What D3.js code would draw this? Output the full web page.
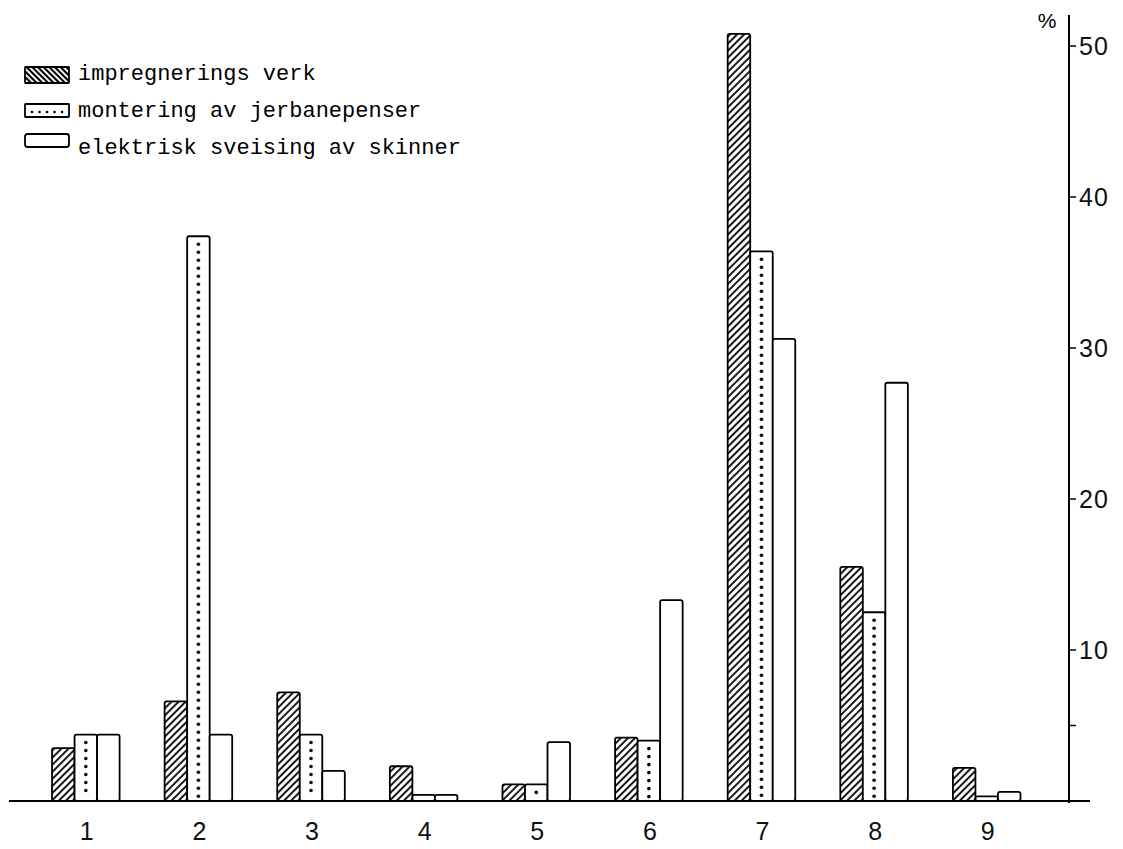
<!DOCTYPE html>
<html lang="no">
  <head>
    <meta charset="UTF-8" />
    <title>Fordeling</title>
    <script src="https://cdn.jsdelivr.net/npm/d3@7"></script>
    <style>
      body { margin: 0; background: #fff; }
    </style>
  </head>
  <body>
    <div id="wrapper"></div>
    <script>
      // data (percent)
      const categories = ['1', '2', '3', '4', '5', '6', '7', '8', '9']
      const seriesNames = ['impregnerings verk', 'montering av jerbanepenser', 'elektrisk sveising av skinner']
      const impregnering = [3.5, 6.6, 7.2, 2.3, 1.1, 4.2, 50.8, 15.5, 2.2]
      const montering = [4.4, 37.4, 4.4, 0.4, 1.1, 4.0, 36.4, 12.5, 0.3]
      const sveising = [4.4, 4.4, 2.0, 0.4, 3.9, 13.3, 30.6, 27.7, 0.6]
      const yTicks = [10, 20, 30, 40, 50]
      const yMinorTicks = [5]

      const dms = {
        width: 1123,
        height: 849,
        axisX: 1069,
        baseY: 801,
        topY: 46
      }

      const values = [impregnering, montering, sveising]
      const rows = categories.map((c, i) => ({
        cat: c,
        bars: seriesNames.map((s, j) => ({ series: s, idx: j, value: values[j][i] }))
      }))

      const svg = d3.select('#wrapper').append('svg')
        .attr('width', dms.width)
        .attr('height', dms.height)
        .style('background', '#fff')

      const defs = svg.append('defs')
      defs.append('pattern')
        .attr('id', 'hatch')
        .attr('patternUnits', 'userSpaceOnUse')
        .attr('width', 5).attr('height', 5)
        .attr('patternTransform', 'rotate(45)')
        .append('line')
        .attr('x1', 1).attr('y1', 0).attr('x2', 1).attr('y2', 5)
        .attr('stroke', '#000').attr('stroke-width', 1.8)
      defs.append('pattern')
        .attr('id', 'hatchLegend')
        .attr('patternUnits', 'userSpaceOnUse')
        .attr('width', 4).attr('height', 4)
        .attr('patternTransform', 'rotate(-45)')
        .append('line')
        .attr('x1', 1).attr('y1', 0).attr('x2', 1).attr('y2', 4)
        .attr('stroke', '#000').attr('stroke-width', 2.2)

      const yScale = d3.scaleLinear()
        .domain([0, 50])
        .range([dms.baseY, dms.topY])
      const xScale = d3.scaleBand()
        .domain(categories)
        .range([29.5, 1043])
        .paddingInner(0.4)
        .paddingOuter(0.2)
      const xInner = d3.scaleBand()
        .domain(seriesNames)
        .range([0, xScale.bandwidth()])

      // baseline
      svg.append('line')
        .attr('x1', 9).attr('x2', 1090)
        .attr('y1', yScale(0)).attr('y2', yScale(0))
        .attr('stroke', '#000').attr('stroke-width', 2)

      const groups = svg.append('g').selectAll('g')
        .data(rows)
        .join('g')
        .attr('transform', d => `translate(${xScale(d.cat)},0)`)

      groups.selectAll('rect')
        .data(d => d.bars)
        .join('rect')
        .attr('x', d => xInner(d.series))
        .attr('y', d => yScale(d.value))
        .attr('width', xInner.bandwidth())
        .attr('height', d => yScale(0) - yScale(d.value))
        .attr('rx', 2)
        .attr('fill', d => d.idx === 0 ? 'url(#hatch)' : '#fff')
        .attr('stroke', '#000')
        .attr('stroke-width', 1.8)

      // dotted column inside the montering bars
      groups.each(function (d) {
        const b = d.bars[1]
        const top = yScale(b.value) + 8
        const dots = d3.range(top, yScale(0) - 3, 8)
        d3.select(this).selectAll('circle')
          .data(dots)
          .join('circle')
          .attr('cx', xInner(b.series) + xInner.bandwidth() / 2)
          .attr('cy', y => y)
          .attr('r', 1.8)
          .attr('fill', '#000')
      })

      // category labels
      svg.append('g').selectAll('text')
        .data(categories)
        .join('text')
        .attr('x', d => xScale(d) + xScale.bandwidth() / 2 + 1)
        .attr('y', 840)
        .attr('text-anchor', 'middle')
        .attr('font-family', 'Liberation Sans, Arial, sans-serif')
        .attr('font-size', 25)
        .attr('fill', '#111')
        .text(d => d)

      // right axis
      const yAxis = svg.append('g')
      yAxis.append('line')
        .attr('x1', dms.axisX).attr('x2', dms.axisX)
        .attr('y1', 15).attr('y2', yScale(0) + 2)
        .attr('stroke', '#000').attr('stroke-width', 2)
      yAxis.selectAll('.tick')
        .data(yTicks.concat(yMinorTicks))
        .join('line')
        .attr('class', 'tick')
        .attr('x1', dms.axisX).attr('x2', dms.axisX + 7)
        .attr('y1', d => yScale(d)).attr('y2', d => yScale(d))
        .attr('stroke', '#000').attr('stroke-width', 1.5)
      yAxis.selectAll('text')
        .data(yTicks)
        .join('text')
        .attr('x', dms.axisX + 10)
        .attr('y', d => yScale(d))
        .attr('dy', '0.36em')
        .attr('font-family', 'Liberation Sans, Arial, sans-serif')
        .attr('font-size', 25)
        .attr('letter-spacing', 1)
        .attr('fill', '#111')
        .text(d => d)
      svg.append('text')
        .attr('x', 1047)
        .attr('y', 28)
        .attr('text-anchor', 'middle')
        .attr('font-family', 'Liberation Sans, Arial, sans-serif')
        .attr('font-size', 21)
        .text('%')

      // legend
      const legend = svg.append('g')
      const legendY = [67, 104, 134]
      const swatch = legend.selectAll('g')
        .data(seriesNames)
        .join('g')
        .attr('transform', (d, i) => `translate(25,${legendY[i]})`)
      swatch.append('rect')
        .attr('width', 44)
        .attr('height', (d, i) => i === 0 ? 16 : 13)
        .attr('rx', (d, i) => i === 2 ? 2.5 : 0.5)
        .attr('fill', (d, i) => i === 0 ? 'url(#hatchLegend)' : '#fff')
        .attr('stroke', '#000')
        .attr('stroke-width', 1.8)
      swatch.filter((d, i) => i === 1)
        .selectAll('circle')
        .data(d3.range(7, 44, 7.5))
        .join('circle')
        .attr('cx', x => x)
        .attr('cy', 8)
        .attr('r', 1.3)
        .attr('fill', '#000')
      legend.selectAll('text')
        .data(seriesNames)
        .join('text')
        .attr('x', 78)
        .attr('y', (d, i) => [80, 117, 154][i])
        .attr('font-family', 'Liberation Mono, Courier New, monospace')
        .attr('font-size', 22)
        .text(d => d)
    </script>
  </body>
</html>
